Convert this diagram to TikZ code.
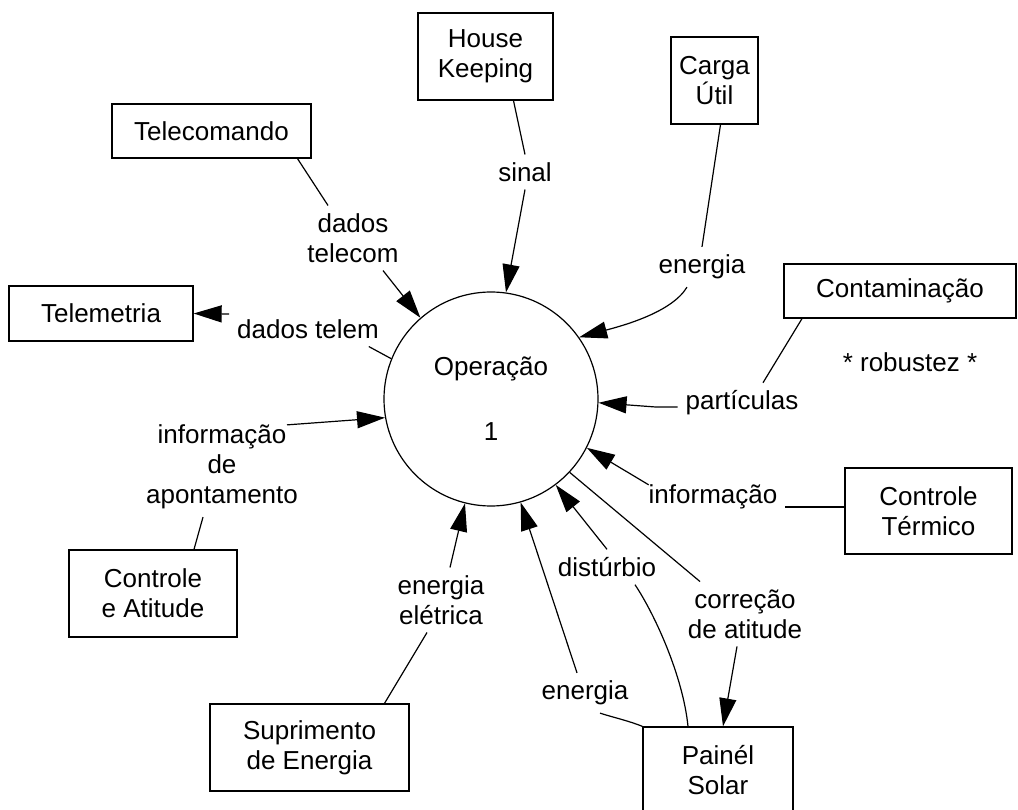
\documentclass[tikz,border=0pt]{standalone}
\usepackage{fontspec}
\setmainfont{Liberation Sans}
\usetikzlibrary{arrows.meta}

\begin{document}
\begin{tikzpicture}[
    x=1pt, y=-1pt,
    every node/.style={font=\fontsize{26}{30}\selectfont},
    box/.style={draw, line width=1.3pt, inner sep=0pt, align=center},
    lbl/.style={inner sep=4pt, outer sep=4pt, align=center},
    ln/.style={line width=1.2pt},
    arr/.style={ln, -{Triangle[length=28pt,width=17pt]}}
  ]
    \clip (0,0) rectangle (1018,810);
    \node[draw, circle, ln, minimum size=214pt, inner sep=0pt, align=center] (op) at (491,399) {Operação\\[35pt]1};
    \node[box, minimum width=135pt, minimum height=87pt] (hk) at (485.5,56.5) {House\\Keeping};
    \node[box, minimum width=87pt, minimum height=87pt] (carga) at (714.5,80.5) {Carga\\Útil};
    \node[box, minimum width=199pt, minimum height=54pt] (tcmd) at (211.5,131) {Telecomando};
    \node[box, minimum width=184pt, minimum height=55pt] (tlm) at (101,313.5) {Telemetria};
    \node[box, minimum width=232pt, minimum height=54pt] (cont) at (900,291) {Contaminação};
    \node[box, minimum width=167pt, minimum height=86pt] (ctrm) at (928.5,511) {Controle\\Térmico};
    \node[box, minimum width=168pt, minimum height=87pt] (catt) at (153,593.5) {Controle\\e Atitude};
    \node[box, minimum width=199pt, minimum height=87pt] (supr) at (309.5,747.5) {Suprimento\\de Energia};
    \node[box, minimum width=150pt, minimum height=87pt] (pain) at (718,770.5) {Painél\\Solar};

    \node[lbl] (lsinal) at (525,172) {sinal};
    \node[lbl] (ltcom) at (353,238) {dados\\telecom};
    \node[lbl] (lenc) at (702,267) {energia};
    \node[lbl] (ltlm) at (308,329) {dados telem};
    \node[lbl] (lapont) at (222,467) {informação\\de\\apontamento};
    \node[lbl] (lpart) at (742,403) {partículas};
    \node[lbl] (rob) at (910,362) {* robustez *};
    \node[lbl] (linfo) at (713,497) {informação};
    \node[lbl] (lelet) at (441,600) {energia\\elétrica};
    \node[lbl] (ldist) at (607,567) {distúrbio};
    \node[lbl] (lcorr) at (745,614) {correção\\de atitude};
    \node[lbl] (lenp) at (585,693) {energia};

    \draw[ln] ([xshift=28pt]hk.south) -- (lsinal.north);
    \draw[arr] (lsinal.south) -- (op.82.5);
    \draw[ln] ([xshift=6pt]carga.south) -- (lenc.north);
    \draw[arr] ([xshift=-15pt]lenc.south) .. controls +(-15,25) and +(45,-12) .. (op.35);
    \draw[ln] ([xshift=86pt]tcmd.south) -- ([xshift=-25pt]ltcom.north);
    \draw[arr] ([xshift=30pt]ltcom.south) -- (op.131);
    \draw[ln] (op.158) -- ([xshift=-18pt]ltlm.south east);
    \draw[arr] ([yshift=15pt]ltlm.west) -- (tlm.east);
    \draw[arr] ([xshift=65pt,yshift=-8pt]lapont.north) -- (op.190);
    \draw[ln] ([xshift=41pt]catt.north) -- ([xshift=-19pt]lapont.south);
    \draw[ln] ([xshift=-98pt]cont.south) -- ([xshift=21pt]lpart.north);
    \draw[arr] ([yshift=-4pt]lpart.west) -- ++(-22,0) -- (op.-2);
    \draw[ln] ([yshift=4pt]ctrm.west) -- ([yshift=-10pt]linfo.east);
    \draw[arr] ([xshift=8pt,yshift=-8pt]linfo.north west) -- (op.-27.5);
    \draw[ln] (op.-43) -- ([xshift=-45pt]lcorr.north);
    \draw[arr] ([xshift=-8pt]lcorr.south) -- ([xshift=5pt]pain.north);
    \draw[ln] ([xshift=-30pt]pain.north) .. controls +(-5,-50) and +(20,30) .. ([xshift=28pt]ldist.south);
    \draw[arr] (ldist.north) -- (op.-53);
    \draw[ln] (pain.north west) .. controls +(-15,-6) and +(12,4) .. ([xshift=15pt]lenp.south);
    \draw[arr] ([xshift=-8pt]lenp.north) -- (op.-74);
    \draw[ln] ([xshift=75pt]supr.north) -- ([xshift=-14pt]lelet.south);
    \draw[arr] ([xshift=9pt]lelet.north) -- (op.-104);
  \end{tikzpicture}
\end{document}
